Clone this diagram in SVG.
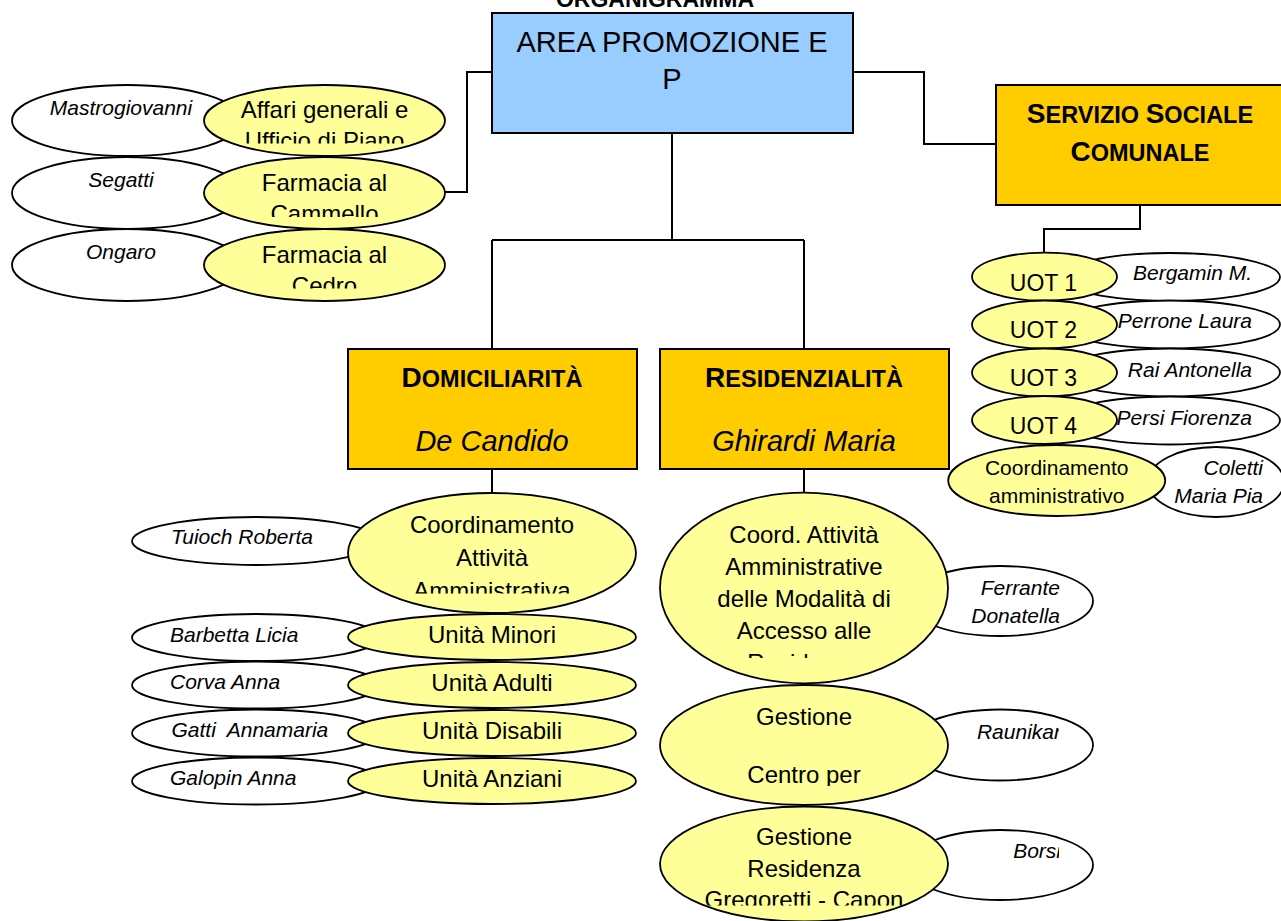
<svg xmlns="http://www.w3.org/2000/svg" width="1281" height="921" viewBox="0 0 1281 921">
<style>
text{font-family:"Liberation Sans",Arial,sans-serif;fill:#000}
.box{stroke:#000;stroke-width:2}
.blue{fill:#99CCFF}
.orange{fill:#FFCC00}
.y{fill:#FFFF99;stroke:#000;stroke-width:1.8}
.w{fill:#FFFFFF;stroke:#000;stroke-width:1.8}
.conn{fill:none;stroke:#000;stroke-width:2}
.t24{font-size:24px;text-anchor:middle}
.t21{font-size:21px;text-anchor:middle}
.i21{font-size:21px;font-style:italic}
.mid{text-anchor:middle}
.end{text-anchor:end}
.sc{font-weight:bold;text-anchor:middle;font-size:28px}
.sm{font-size:23.5px}
</style>
<defs>
<clipPath id="c1"><rect x="204" y="85" width="241" height="58.5"/></clipPath>
<clipPath id="c2"><rect x="204" y="157" width="241" height="60"/></clipPath>
<clipPath id="c3"><rect x="204" y="229" width="241" height="59.5"/></clipPath>
<clipPath id="c4"><rect x="348" y="493" width="288" height="100.5"/></clipPath>
<clipPath id="c5"><rect x="660" y="493" width="288" height="165"/></clipPath>
<clipPath id="c6"><rect x="660" y="685" width="288" height="101"/></clipPath>
<clipPath id="c7"><rect x="660" y="806" width="288" height="99.5"/></clipPath>
<clipPath id="c8"><rect x="900" y="700" width="159" height="200"/></clipPath>
</defs>

<text x="655" y="7" font-size="23" font-weight="bold" text-anchor="middle">ORGANIGRAMMA</text>

<g id="connectors">
<path class="conn" d="M492,72 H467 V192 H445"/>
<path class="conn" d="M853,72 H924 V144 H996"/>
<path class="conn" d="M672,133 V240 M492,240 H804 M492,240 V349 M804,240 V349"/>
<path class="conn" d="M492,469 V493"/>
<path class="conn" d="M804,469 V493"/>
<path class="conn" d="M1140,205 V229 H1044 V253"/>
</g>

<g id="area">
<rect class="box blue" x="492" y="13" width="361" height="120"/>
<text x="672" y="52" font-size="29" text-anchor="middle">AREA PROMOZIONE E</text>
<text x="672" y="89" font-size="29" text-anchor="middle">P</text>
</g>

<g id="servizio">
<rect class="box orange" x="996" y="85" width="292" height="120"/>
<text class="sc" x="1140" y="123">S<tspan class="sm">ERVIZIO </tspan>S<tspan class="sm">OCIALE</tspan></text>
<text class="sc" x="1140" y="161">C<tspan class="sm">OMUNALE</tspan></text>
</g>

<g id="domiciliarita">
<rect class="box orange" x="348" y="349" width="289" height="120"/>
<text class="sc" x="492" y="387">D<tspan class="sm">OMICILIARITÀ</tspan></text>
<text x="492" y="451" font-size="29" font-style="italic" text-anchor="middle">De Candido</text>
</g>

<g id="residenzialita">
<rect class="box orange" x="660" y="349" width="289" height="120"/>
<text class="sc" x="804" y="387">R<tspan class="sm">ESIDENZIALITÀ</tspan></text>
<text x="804" y="451" font-size="29" font-style="italic" text-anchor="middle">Ghirardi Maria</text>
</g>

<g id="mastrogiovanni">
<ellipse class="w" cx="127" cy="120.5" rx="115" ry="35.5"/>
<text class="i21 mid" x="121" y="115">Mastrogiovanni</text>
</g>
<g id="affari">
<ellipse class="y" cx="324.5" cy="120.5" rx="120.5" ry="35.5"/>
<g clip-path="url(#c1)">
<text class="t24" x="324.5" y="118">Affari generali e</text>
<text class="t24" x="324.5" y="149">Ufficio di Piano</text>
</g>
</g>
<g id="segatti">
<ellipse class="w" cx="127" cy="193" rx="115" ry="36"/>
<text class="i21 mid" x="121" y="187">Segatti</text>
</g>
<g id="cammello">
<ellipse class="y" cx="324.5" cy="193" rx="120.5" ry="36"/>
<g clip-path="url(#c2)">
<text class="t24" x="324.5" y="190.7">Farmacia al</text>
<text class="t24" x="324.5" y="221.7">Cammello</text>
</g>
</g>
<g id="ongaro">
<ellipse class="w" cx="127" cy="265" rx="115" ry="36"/>
<text class="i21 mid" x="121" y="259">Ongaro</text>
</g>
<g id="cedro">
<ellipse class="y" cx="324.5" cy="265" rx="120.5" ry="36"/>
<g clip-path="url(#c3)">
<text class="t24" x="324.5" y="262.7">Farmacia al</text>
<text class="t24" x="324.5" y="293.7">Cedro</text>
</g>
</g>

<g id="uot1">
<ellipse class="w" cx="1170" cy="277" rx="110" ry="24"/>
<text class="i21 end" x="1252" y="280">Bergamin M.</text>
<ellipse class="y" cx="1044.5" cy="276.7" rx="72.5" ry="24"/>
<text x="1043.5" y="290.7" font-size="23" text-anchor="middle">UOT 1</text>
</g>
<g id="uot2">
<ellipse class="w" cx="1170" cy="324.5" rx="110" ry="24"/>
<text class="i21 end" x="1252" y="328.3">Perrone Laura</text>
<ellipse class="y" cx="1044.5" cy="324.5" rx="72.5" ry="24"/>
<text x="1043.5" y="338.3" font-size="23" text-anchor="middle">UOT 2</text>
</g>
<g id="uot3">
<ellipse class="w" cx="1170" cy="372.5" rx="110" ry="24"/>
<text class="i21 end" x="1252" y="376.7">Rai Antonella</text>
<ellipse class="y" cx="1044.5" cy="372.5" rx="72.5" ry="24"/>
<text x="1043.5" y="386" font-size="23" text-anchor="middle">UOT 3</text>
</g>
<g id="uot4">
<ellipse class="w" cx="1170" cy="420.5" rx="110" ry="24"/>
<text class="i21 end" x="1252" y="425">Persi Fiorenza</text>
<ellipse class="y" cx="1044.5" cy="420" rx="72.5" ry="24"/>
<text x="1043.5" y="434" font-size="23" text-anchor="middle">UOT 4</text>
</g>
<g id="coordamm">
<ellipse class="w" cx="1216" cy="482" rx="68" ry="35"/>
<text class="i21 end" x="1263" y="475">Coletti</text>
<text class="i21 end" x="1263" y="502.7">Maria Pia</text>
<ellipse class="y" cx="1056.7" cy="480.5" rx="108.5" ry="35.5"/>
<text class="t21" x="1056.7" y="475">Coordinamento</text>
<text class="t21" x="1056.7" y="502.7">amministrativo</text>
</g>

<g id="tuioch">
<ellipse class="w" cx="256" cy="541" rx="124" ry="24"/>
<text class="i21" x="171" y="544">Tuioch Roberta</text>
</g>
<g id="coordattivita">
<ellipse class="y" cx="492" cy="553" rx="144" ry="60"/>
<g clip-path="url(#c4)">
<text class="t24" x="492" y="533">Coordinamento</text>
<text class="t24" x="492" y="566">Attività</text>
<text class="t24" x="492" y="599">Amministrativa</text>
</g>
</g>
<g id="minori">
<ellipse class="w" cx="256" cy="637.5" rx="124" ry="23.5"/>
<text class="i21" x="170" y="641.7">Barbetta Licia</text>
<ellipse class="y" cx="492" cy="637" rx="144" ry="23"/>
<text class="t24" x="492" y="643">Unità Minori</text>
</g>
<g id="adulti">
<ellipse class="w" cx="256" cy="685" rx="124" ry="23.5"/>
<text class="i21" x="170" y="689">Corva Anna</text>
<ellipse class="y" cx="492" cy="685" rx="144" ry="23"/>
<text class="t24" x="492" y="690.7">Unità Adulti</text>
</g>
<g id="disabili">
<ellipse class="w" cx="256" cy="733" rx="124" ry="23.5"/>
<text class="i21" x="171.5" y="736.7" xml:space="preserve">Gatti  Annamaria</text>
<ellipse class="y" cx="492" cy="733" rx="144" ry="23"/>
<text class="t24" x="492" y="738.7">Unità Disabili</text>
</g>
<g id="anziani">
<ellipse class="w" cx="256" cy="781" rx="124" ry="23.5"/>
<text class="i21" x="170" y="785">Galopin Anna</text>
<ellipse class="y" cx="492" cy="781" rx="144" ry="23"/>
<text class="t24" x="492" y="786.7">Unità Anziani</text>
</g>

<g id="coordaccesso">
<ellipse class="w" cx="1000" cy="601" rx="93" ry="35"/>
<text class="i21 end" x="1060" y="595">Ferrante</text>
<text class="i21 end" x="1060" y="622.7">Donatella</text>
<ellipse class="y" cx="804" cy="588" rx="144" ry="95.3"/>
<g clip-path="url(#c5)">
<text class="t24" x="804" y="543.3">Coord. Attività</text>
<text class="t24" x="804" y="575">Amministrative</text>
<text class="t24" x="804" y="607.3">delle Modalità di</text>
<text class="t24" x="804" y="639.3">Accesso alle</text>
<text class="t24" x="804" y="671.3">Residenze</text>
</g>
</g>
<g id="centro">
<ellipse class="w" cx="1000" cy="745" rx="93" ry="35.5"/>
<g clip-path="url(#c8)"><text class="i21 end" x="1061" y="739.3">Raunikar</text></g>
<ellipse class="y" cx="804" cy="745" rx="144" ry="60"/>
<g clip-path="url(#c6)">
<text class="t24" x="804" y="725">Gestione</text>
<text class="t24" x="804" y="783">Centro per</text>
</g>
</g>
<g id="residenza">
<ellipse class="w" cx="1000" cy="865" rx="93" ry="35"/>
<g clip-path="url(#c8)"><text class="i21 end" x="1061" y="858.3">Borsi</text></g>
<ellipse class="y" cx="804" cy="864" rx="144" ry="57.5"/>
<g clip-path="url(#c7)">
<text class="t24" x="804" y="845">Gestione</text>
<text class="t24" x="804" y="876.7">Residenza</text>
<text class="t24" x="804" y="908.3">Gregoretti - Capon</text>
</g>
</g>
</svg>
